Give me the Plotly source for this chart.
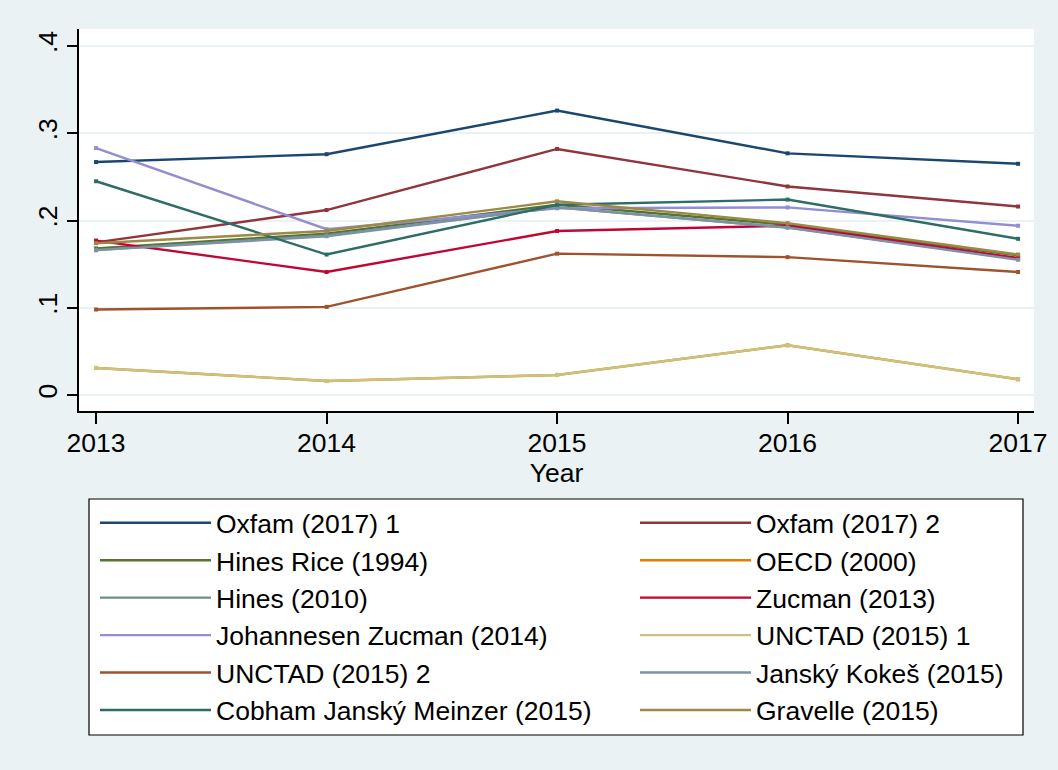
import plotly.graph_objects as go

years = [2013, 2014, 2015, 2016, 2017]

series_names = [
    "Oxfam (2017) 1", "Oxfam (2017) 2", "Hines Rice (1994)", "OECD (2000)",
    "Hines (2010)", "Zucman (2013)", "Johannesen Zucman (2014)", "UNCTAD (2015) 1",
    "UNCTAD (2015) 2", "Janský Kokeš (2015)", "Cobham Janský Meinzer (2015)", "Gravelle (2015)",
]

oxfam_1 = [0.267, 0.276, 0.326, 0.277, 0.265]
oxfam_2 = [0.175, 0.212, 0.282, 0.239, 0.216]
hines_rice = [0.168, 0.185, 0.218, 0.195, 0.160]
oecd = [0.031, 0.016, 0.023, 0.057, 0.018]
hines_2010 = [0.166, 0.183, 0.215, 0.192, 0.156]
zucman = [0.177, 0.141, 0.188, 0.194, 0.157]
johannesen_zucman = [0.283, 0.190, 0.214, 0.215, 0.194]
unctad_1 = [0.031, 0.016, 0.023, 0.057, 0.018]
unctad_2 = [0.098, 0.101, 0.162, 0.158, 0.141]
jansky_kokes = [0.166, 0.182, 0.215, 0.192, 0.155]
cobham = [0.245, 0.161, 0.218, 0.224, 0.179]
gravelle = [0.174, 0.188, 0.222, 0.197, 0.161]

series_values = [oxfam_1, oxfam_2, hines_rice, oecd, hines_2010, zucman,
                 johannesen_zucman, unctad_1, unctad_2, jansky_kokes, cobham, gravelle]

colors = ["#1a476f", "#90353b", "#55752f", "#e37e00", "#6e8e84", "#c10534",
          "#938dd2", "#cac27e", "#a0522d", "#7b92a8", "#2d6d66", "#9c8847"]

y_tick_vals = [0, 0.1, 0.2, 0.3, 0.4]
y_tick_text = ["0", ".1", ".2", ".3", ".4"]

FONT = "Liberation Sans, Arial, sans-serif"
FS = 26.5
BG = "#eaf2f3"

fig = go.Figure()
for i, (name, vals, col) in enumerate(zip(series_names, series_values, colors)):
    leg = "legend" if i % 2 == 0 else "legend2"
    fig.add_trace(go.Scatter(
        x=years, y=vals, name=name, mode="lines",
        line=dict(color=col, width=2.4),
        legend=leg, legendgroup=f"g{i}",
    ))
    fig.add_trace(go.Scatter(
        x=years, y=vals, mode="markers", showlegend=False, hoverinfo="skip",
        marker=dict(color=col, size=4, symbol="square"),
    ))

W, H = 1058, 770
ml, mr, mt, mb = 79, 24, 29, 359
pw = W - ml - mr
ph = H - mt - mb

def px_x(px):
    return (px - ml) / pw

def px_y(py):
    return (H - mb - py) / ph

legend_common = dict(
    orientation="v", xanchor="left", yanchor="top",
    bgcolor="rgba(0,0,0,0)", borderwidth=0,
    font=dict(family=FONT, size=FS, color="black"),
    itemwidth=111, tracegroupgap=0, traceorder="grouped",
)

fig.update_layout(
    width=W, height=H,
    margin=dict(l=ml, r=mr, t=mt, b=mb, autoexpand=False),
    paper_bgcolor=BG, plot_bgcolor="white",
    font=dict(family=FONT, size=FS, color="black"),
    showlegend=True,
    legend=dict(x=px_x(95), y=px_y(499), **legend_common),
    legend2=dict(x=px_x(635), y=px_y(499), **legend_common),
    xaxis=dict(
        range=[2012.926, 2017.069], tickvals=years, ticktext=[str(y) for y in years],
        showgrid=False, zeroline=False, showline=True, linecolor="black", linewidth=1.5,
        ticks="outside", ticklen=11, tickcolor="black", tickwidth=1.5,
        ticklabelstandoff=-4,
        tickfont=dict(family=FONT, size=FS, color="black"),
        title=dict(text="Year", font=dict(family=FONT, size=FS, color="black"), standoff=0),
    ),
    yaxis=dict(
        range=[-0.01834, 0.4195], tickvals=y_tick_vals, ticktext=y_tick_text,
        showgrid=True, gridcolor=BG, gridwidth=2, zeroline=False,
        showline=True, linecolor="black", linewidth=1.5,
        ticks="outside", ticklen=10, tickcolor="black", tickwidth=1.5,
        tickangle=-90,
        tickfont=dict(family=FONT, size=FS, color="black"),
    ),
    shapes=[dict(
        type="rect", xref="paper", yref="paper",
        x0=px_x(89), x1=px_x(1023), y0=px_y(735), y1=px_y(499),
        fillcolor="white", line=dict(color="black", width=1.2), layer="below",
    )],
)

fig.write_html(
    "out.html",
    config={"displayModeBar": False},
    post_script="document.body.style.margin='0';document.body.style.padding='0';",
)
